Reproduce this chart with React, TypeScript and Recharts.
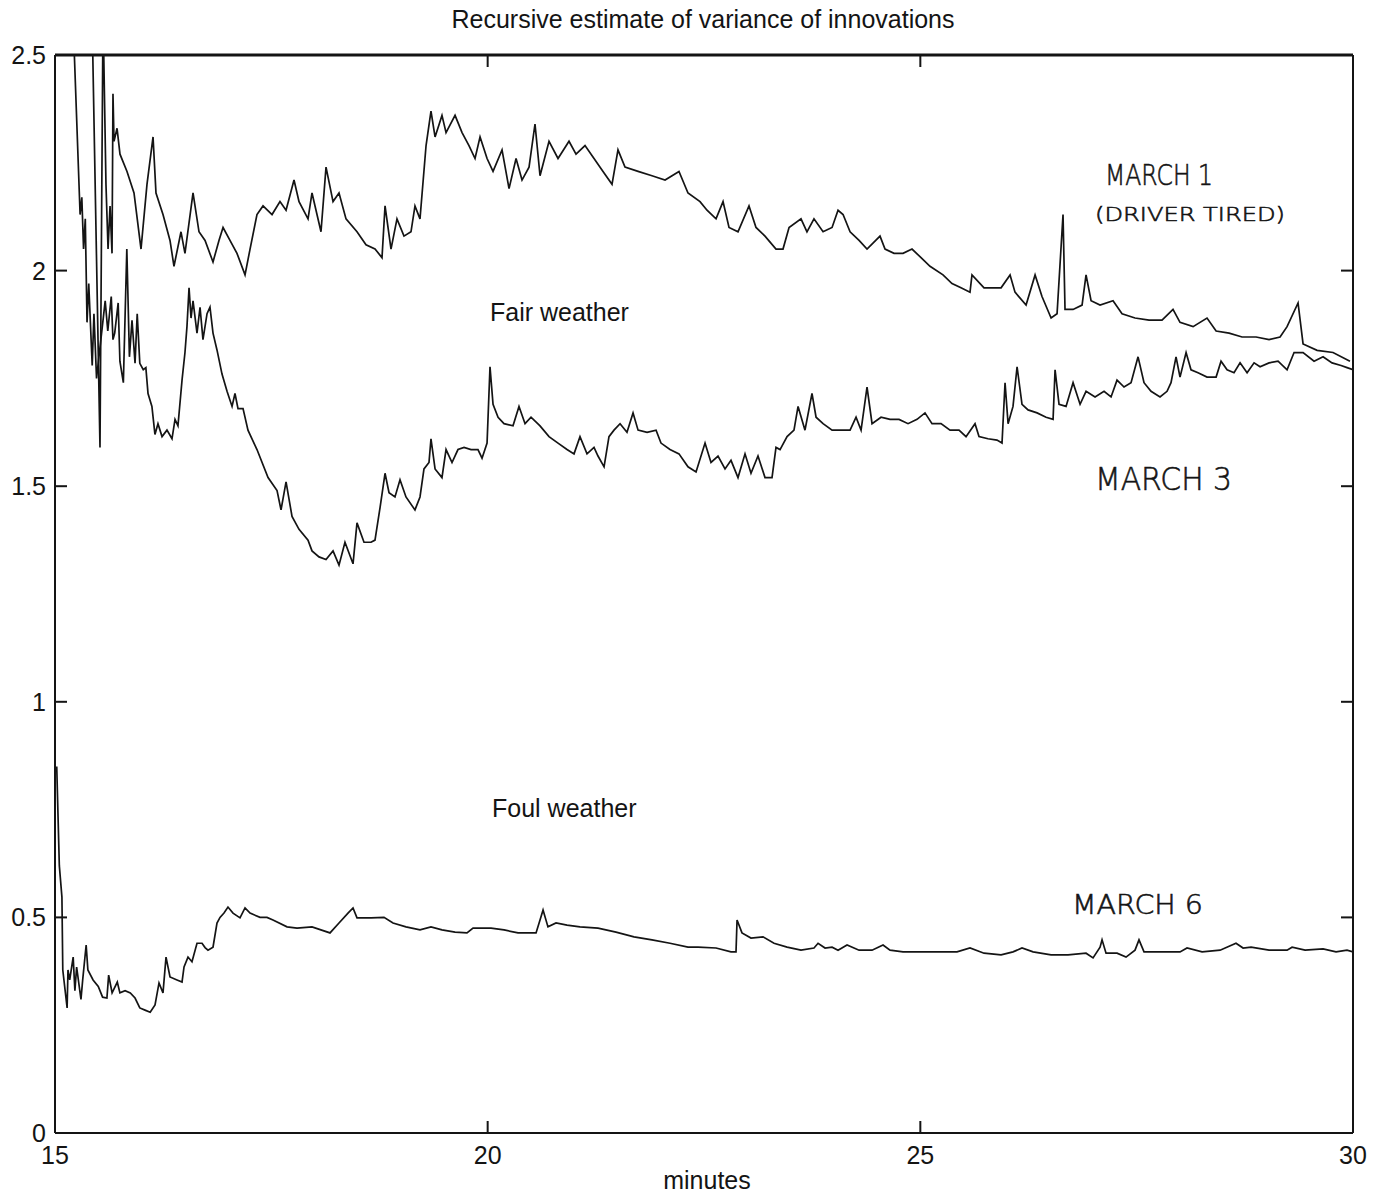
import { LineChart, Line, XAxis, YAxis } from 'recharts';

const X_TICKS = [15, 20, 25, 30];
const Y_TICKS = [0, 0.5, 1, 1.5, 2, 2.5];

// [minute, variance of innovations]
const march1: [number, number][] = [
  [15.4, 2.9], [15.52, 1.59], [15.555, 2.6], [15.589, 2.2], [15.613, 2.05], [15.636, 2.15],
  [15.659, 2.04], [15.67, 2.41], [15.682, 2.3], [15.717, 2.33], [15.751, 2.27], [15.832, 2.23],
  [15.913, 2.18], [15.994, 2.05], [16.063, 2.2], [16.133, 2.31], [16.167, 2.18], [16.248, 2.13],
  [16.329, 2.07], [16.375, 2.01], [16.456, 2.09], [16.502, 2.04], [16.595, 2.18], [16.664, 2.09],
  [16.734, 2.07], [16.826, 2.02], [16.895, 2.07], [16.942, 2.1], [17.022, 2.07], [17.103, 2.04],
  [17.196, 1.99], [17.254, 2.05], [17.334, 2.13], [17.404, 2.15], [17.508, 2.13], [17.6, 2.16],
  [17.67, 2.14], [17.762, 2.21], [17.82, 2.16], [17.924, 2.12], [17.97, 2.18], [18.074, 2.09],
  [18.132, 2.24], [18.213, 2.16], [18.282, 2.18], [18.363, 2.12], [18.49, 2.09], [18.594, 2.06],
  [18.698, 2.05], [18.779, 2.03], [18.814, 2.15], [18.883, 2.05], [18.952, 2.12], [19.033, 2.08],
  [19.114, 2.09], [19.16, 2.15], [19.218, 2.12], [19.288, 2.29], [19.345, 2.37], [19.392, 2.31],
  [19.472, 2.36], [19.519, 2.32], [19.623, 2.36], [19.704, 2.32], [19.784, 2.29], [19.854, 2.26],
  [19.912, 2.31], [19.993, 2.26], [20.062, 2.23], [20.166, 2.28], [20.247, 2.19], [20.328, 2.26],
  [20.397, 2.21], [20.478, 2.24], [20.547, 2.34], [20.605, 2.22], [20.709, 2.3], [20.813, 2.26],
  [20.94, 2.3], [21.021, 2.27], [21.125, 2.29], [21.229, 2.26], [21.333, 2.23], [21.437, 2.2],
  [21.506, 2.28], [21.587, 2.24], [21.738, 2.23], [21.899, 2.22], [22.05, 2.21], [22.211, 2.23],
  [22.315, 2.18], [22.454, 2.16], [22.535, 2.14], [22.639, 2.12], [22.72, 2.16], [22.789, 2.1],
  [22.893, 2.09], [23.02, 2.15], [23.101, 2.1], [23.205, 2.08], [23.332, 2.05], [23.413, 2.05],
  [23.483, 2.1], [23.621, 2.12], [23.69, 2.09], [23.771, 2.12], [23.876, 2.09], [23.98, 2.1],
  [24.049, 2.14], [24.107, 2.13], [24.188, 2.09], [24.292, 2.07], [24.384, 2.05], [24.534, 2.08],
  [24.592, 2.05], [24.696, 2.04], [24.8, 2.04], [24.904, 2.05], [25.008, 2.03], [25.112, 2.01],
  [25.262, 1.99], [25.366, 1.97], [25.47, 1.96], [25.574, 1.95], [25.597, 1.99], [25.736, 1.96],
  [25.84, 1.96], [25.933, 1.96], [26.037, 1.99], [26.094, 1.95], [26.222, 1.92], [26.326, 1.99],
  [26.406, 1.94], [26.511, 1.89], [26.58, 1.9], [26.649, 2.13], [26.672, 1.91], [26.765, 1.91],
  [26.869, 1.92], [26.915, 1.99], [26.973, 1.93], [27.077, 1.92], [27.227, 1.93], [27.331, 1.9],
  [27.481, 1.89], [27.643, 1.885], [27.793, 1.885], [27.92, 1.91], [28.001, 1.88], [28.152, 1.87],
  [28.313, 1.89], [28.418, 1.86], [28.568, 1.855], [28.718, 1.846], [28.88, 1.846], [29.03, 1.84],
  [29.157, 1.846], [29.238, 1.87], [29.365, 1.925], [29.423, 1.83], [29.585, 1.815], [29.769, 1.81],
  [29.965, 1.79],
];

const march3: [number, number][] = [
  [15.17, 2.8], [15.29, 2.13], [15.31, 2.17], [15.33, 2.05], [15.35, 2.12], [15.37, 1.88],
  [15.39, 1.97], [15.43, 1.78], [15.45, 1.9], [15.48, 1.75], [15.58, 1.93], [15.61, 1.86],
  [15.65, 1.94], [15.67, 1.84], [15.69, 1.855], [15.73, 1.925], [15.75, 1.79], [15.79, 1.74],
  [15.83, 2.05], [15.86, 1.8], [15.89, 1.885], [15.925, 1.785], [15.95, 1.9], [15.98, 1.785],
  [16.02, 1.77], [16.05, 1.775], [16.075, 1.715], [16.12, 1.685], [16.155, 1.62], [16.19, 1.645],
  [16.237, 1.615], [16.294, 1.63], [16.352, 1.61], [16.387, 1.655], [16.421, 1.64], [16.468, 1.746],
  [16.502, 1.81], [16.525, 1.87], [16.549, 1.96], [16.572, 1.89], [16.595, 1.93], [16.641, 1.855],
  [16.676, 1.915], [16.71, 1.84], [16.757, 1.9], [16.791, 1.915], [16.826, 1.855], [16.872, 1.816],
  [16.93, 1.76], [16.988, 1.72], [17.046, 1.685], [17.08, 1.715], [17.115, 1.68], [17.173, 1.68],
  [17.23, 1.63], [17.334, 1.585], [17.462, 1.52], [17.566, 1.49], [17.612, 1.445], [17.67, 1.51],
  [17.739, 1.43], [17.82, 1.4], [17.924, 1.375], [17.97, 1.35], [18.051, 1.336], [18.132, 1.33],
  [18.213, 1.35], [18.282, 1.317], [18.351, 1.37], [18.444, 1.32], [18.49, 1.415], [18.571, 1.37],
  [18.652, 1.37], [18.698, 1.375], [18.756, 1.45], [18.814, 1.53], [18.86, 1.485], [18.929, 1.475],
  [18.987, 1.515], [19.056, 1.475], [19.16, 1.445], [19.218, 1.475], [19.264, 1.54], [19.322, 1.555],
  [19.345, 1.61], [19.392, 1.54], [19.472, 1.52], [19.519, 1.585], [19.588, 1.555], [19.657, 1.585],
  [19.727, 1.59], [19.808, 1.585], [19.888, 1.585], [19.935, 1.565], [19.993, 1.6], [20.027, 1.777],
  [20.062, 1.69], [20.12, 1.66], [20.189, 1.645], [20.293, 1.64], [20.362, 1.685], [20.432, 1.645],
  [20.501, 1.66], [20.605, 1.64], [20.709, 1.615], [20.813, 1.6], [20.917, 1.585], [20.998, 1.575],
  [21.067, 1.615], [21.148, 1.575], [21.229, 1.59], [21.275, 1.57], [21.345, 1.545], [21.402, 1.615],
  [21.46, 1.63], [21.53, 1.645], [21.61, 1.625], [21.68, 1.67], [21.738, 1.63], [21.842, 1.625],
  [21.946, 1.63], [22.003, 1.6], [22.107, 1.585], [22.211, 1.575], [22.315, 1.545], [22.408, 1.533],
  [22.512, 1.6], [22.581, 1.555], [22.662, 1.57], [22.743, 1.54], [22.812, 1.56], [22.893, 1.52],
  [22.974, 1.575], [23.043, 1.53], [23.124, 1.57], [23.205, 1.52], [23.286, 1.52], [23.332, 1.59],
  [23.379, 1.585], [23.46, 1.615], [23.54, 1.63], [23.587, 1.685], [23.667, 1.63], [23.748, 1.715],
  [23.795, 1.66], [23.876, 1.645], [23.98, 1.63], [24.084, 1.63], [24.188, 1.63], [24.257, 1.66],
  [24.315, 1.63], [24.384, 1.73], [24.442, 1.645], [24.546, 1.66], [24.65, 1.655], [24.754, 1.655],
  [24.858, 1.645], [24.962, 1.655], [25.054, 1.67], [25.135, 1.645], [25.239, 1.645], [25.343, 1.63],
  [25.447, 1.63], [25.528, 1.615], [25.632, 1.645], [25.678, 1.615], [25.782, 1.61], [25.886, 1.607],
  [25.944, 1.6], [25.979, 1.74], [26.014, 1.645], [26.071, 1.685], [26.118, 1.777], [26.175, 1.69],
  [26.245, 1.677], [26.349, 1.67], [26.453, 1.66], [26.534, 1.655], [26.557, 1.77], [26.603, 1.69],
  [26.684, 1.685], [26.765, 1.74], [26.846, 1.69], [26.915, 1.72], [27.019, 1.707], [27.123, 1.72],
  [27.204, 1.707], [27.273, 1.746], [27.354, 1.73], [27.435, 1.74], [27.516, 1.8], [27.585, 1.74],
  [27.666, 1.72], [27.77, 1.707], [27.851, 1.72], [27.897, 1.74], [27.955, 1.8], [28.001, 1.753],
  [28.071, 1.81], [28.128, 1.77], [28.209, 1.763], [28.313, 1.753], [28.418, 1.753], [28.475, 1.79],
  [28.545, 1.77], [28.625, 1.763], [28.695, 1.786], [28.776, 1.763], [28.857, 1.786], [28.926, 1.777],
  [29.03, 1.786], [29.134, 1.79], [29.238, 1.77], [29.319, 1.81], [29.423, 1.81], [29.55, 1.79],
  [29.654, 1.8], [29.758, 1.786], [29.862, 1.78], [29.931, 1.775], [30.0, 1.77],
];

const march6: [number, number][] = [
  [15.02, 0.85], [15.05, 0.62], [15.08, 0.547], [15.09, 0.378], [15.14, 0.29], [15.15, 0.378],
  [15.17, 0.355], [15.21, 0.408], [15.23, 0.33], [15.25, 0.385], [15.3, 0.31], [15.32, 0.355],
  [15.36, 0.436], [15.38, 0.378], [15.44, 0.355], [15.5, 0.34], [15.55, 0.315], [15.6, 0.313],
  [15.62, 0.366], [15.66, 0.325], [15.72, 0.35], [15.75, 0.325], [15.81, 0.33], [15.87, 0.325],
  [15.925, 0.313], [15.98, 0.29], [16.04, 0.285], [16.1, 0.28], [16.156, 0.297], [16.202, 0.348],
  [16.248, 0.325], [16.283, 0.408], [16.329, 0.362], [16.41, 0.355], [16.468, 0.35], [16.491, 0.385],
  [16.537, 0.408], [16.583, 0.397], [16.641, 0.44], [16.699, 0.44], [16.734, 0.43], [16.768, 0.424],
  [16.826, 0.431], [16.872, 0.487], [16.907, 0.5], [16.953, 0.51], [16.999, 0.524], [17.057, 0.51],
  [17.138, 0.499], [17.196, 0.522], [17.254, 0.51], [17.369, 0.5], [17.45, 0.5], [17.519, 0.494],
  [17.681, 0.478], [17.797, 0.475], [17.97, 0.478], [18.178, 0.464], [18.282, 0.487], [18.386, 0.51],
  [18.444, 0.522], [18.49, 0.499], [18.652, 0.499], [18.802, 0.5], [18.906, 0.487], [19.056, 0.478],
  [19.218, 0.471], [19.345, 0.478], [19.472, 0.471], [19.623, 0.466], [19.761, 0.464], [19.831, 0.475],
  [20.039, 0.475], [20.189, 0.471], [20.351, 0.464], [20.559, 0.464], [20.605, 0.494], [20.64, 0.517],
  [20.697, 0.478], [20.79, 0.487], [20.917, 0.482], [21.067, 0.478], [21.275, 0.475], [21.483, 0.466],
  [21.691, 0.455], [21.899, 0.448], [22.107, 0.44], [22.315, 0.431], [22.431, 0.431], [22.639, 0.429],
  [22.812, 0.42], [22.87, 0.42], [22.882, 0.494], [22.939, 0.464], [23.043, 0.452], [23.182, 0.455],
  [23.309, 0.44], [23.46, 0.431], [23.621, 0.424], [23.771, 0.429], [23.818, 0.44], [23.899, 0.429],
  [23.98, 0.431], [24.049, 0.424], [24.153, 0.436], [24.292, 0.424], [24.442, 0.424], [24.569, 0.436],
  [24.65, 0.424], [24.8, 0.42], [25.008, 0.42], [25.216, 0.42], [25.424, 0.42], [25.574, 0.429],
  [25.736, 0.417], [25.933, 0.413], [26.071, 0.42], [26.175, 0.429], [26.303, 0.42], [26.511, 0.413],
  [26.707, 0.413], [26.915, 0.417], [26.996, 0.406], [27.077, 0.431], [27.1, 0.448], [27.146, 0.417],
  [27.273, 0.417], [27.377, 0.408], [27.481, 0.424], [27.527, 0.448], [27.585, 0.42], [27.793, 0.42],
  [28.001, 0.42], [28.082, 0.429], [28.256, 0.42], [28.464, 0.424], [28.648, 0.44], [28.73, 0.429],
  [28.822, 0.431], [29.03, 0.424], [29.238, 0.424], [29.296, 0.431], [29.446, 0.424], [29.654, 0.427],
  [29.804, 0.42], [29.931, 0.424], [30.0, 0.42],
];

const toRows = (pts: [number, number][]) => pts.map(([t, v]) => ({ t, v }));

const INK = '#141414';
const SANS = '"Liberation Sans", Arial, sans-serif';
const HAND = '"DejaVu Sans", sans-serif';
const TICK_LEN = 12;

// ticks point into the plot box, labels sit outside
const LeftTick = ({ x, y, payload }: any) => (
  <g>
    <line x1={x} y1={y} x2={x + TICK_LEN} y2={y} stroke={INK} strokeWidth={2} />
    <text x={x - 9} y={y + 9} textAnchor="end" fontSize={25} fontFamily={SANS} fill={INK}>
      {payload.value}
    </text>
  </g>
);

const RightTick = ({ x, y }: any) => (
  <line x1={x} y1={y} x2={x - TICK_LEN} y2={y} stroke={INK} strokeWidth={2} />
);

const BottomTick = ({ x, y, payload }: any) => (
  <g>
    <line x1={x} y1={y} x2={x} y2={y - TICK_LEN} stroke={INK} strokeWidth={2} />
    <text x={x} y={y + 31} textAnchor="middle" fontSize={25} fontFamily={SANS} fill={INK}>
      {payload.value}
    </text>
  </g>
);

const TopTick = ({ x, y }: any) => (
  <line x1={x} y1={y} x2={x} y2={y + TICK_LEN} stroke={INK} strokeWidth={2} />
);

const axisLine = { stroke: INK, strokeWidth: 2 };

export default function App() {
  const series = [march1, march3, march6].map(toRows);
  return (
    <div style={{ position: 'absolute', left: 0, top: 0, width: 1385, height: 1199, background: '#fff' }}>
      <LineChart width={1385} height={1199} margin={{ top: 0, right: 0, bottom: 0, left: 0 }}>
        <XAxis
          xAxisId="bottom"
          type="number"
          dataKey="t"
          domain={[15, 30]}
          ticks={X_TICKS}
          interval={0}
          allowDataOverflow
          height={66}
          tickSize={0}
          tickMargin={0}
          tickLine={false}
          axisLine={axisLine}
          tick={BottomTick}
        />
        <XAxis
          xAxisId="top"
          orientation="top"
          type="number"
          dataKey="t"
          domain={[15, 30]}
          ticks={X_TICKS}
          interval={0}
          allowDataOverflow
          height={55}
          tickSize={0}
          tickMargin={0}
          tickLine={false}
          axisLine={{ stroke: INK, strokeWidth: 3 }}
          tick={TopTick}
        />
        <YAxis
          yAxisId="left"
          type="number"
          domain={[0, 2.5]}
          ticks={Y_TICKS}
          interval={0}
          allowDataOverflow
          width={55}
          tickSize={0}
          tickMargin={0}
          tickLine={false}
          axisLine={axisLine}
          tick={LeftTick}
        />
        <YAxis
          yAxisId="right"
          orientation="right"
          type="number"
          domain={[0, 2.5]}
          ticks={Y_TICKS}
          interval={0}
          allowDataOverflow
          width={32}
          tickSize={0}
          tickMargin={0}
          tickLine={false}
          axisLine={axisLine}
          tick={RightTick}
        />
        {series.map((rows, i) => (
          <Line
            key={i}
            xAxisId="bottom"
            yAxisId="left"
            data={rows}
            dataKey="v"
            type="linear"
            stroke={INK}
            strokeWidth={1.7}
            dot={false}
            activeDot={false}
            isAnimationActive={false}
          />
        ))}
      </LineChart>
      <svg
        width={1385}
        height={1199}
        style={{ position: 'absolute', left: 0, top: 0, pointerEvents: 'none' }}
      >
        <g fontFamily={SANS} fill={INK}>
          <text x={703} y={28} textAnchor="middle" fontSize={25}>
            Recursive estimate of variance of innovations
          </text>
          <text x={490} y={321} fontSize={25}>Fair weather</text>
          <text x={492} y={817} fontSize={25}>Foul weather</text>
          <text x={707} y={1189} textAnchor="middle" fontSize={25}>minutes</text>
        </g>
        <g fontFamily={HAND} fontWeight={200} fill={INK} stroke={INK} strokeWidth={0.6}>
          <text x={1105} y={185} fontSize={28} textLength={108} lengthAdjust="spacingAndGlyphs">
            MARCH 1
          </text>
          <text x={1095} y={221} fontSize={19} textLength={190} lengthAdjust="spacingAndGlyphs">
            (DRIVER TIRED)
          </text>
          <text x={1095} y={490} fontSize={32} textLength={137} lengthAdjust="spacingAndGlyphs">
            MARCH 3
          </text>
          <text x={1072} y={914} fontSize={27} textLength={131} lengthAdjust="spacingAndGlyphs">
            MARCH 6
          </text>
        </g>
      </svg>
    </div>
  );
}
